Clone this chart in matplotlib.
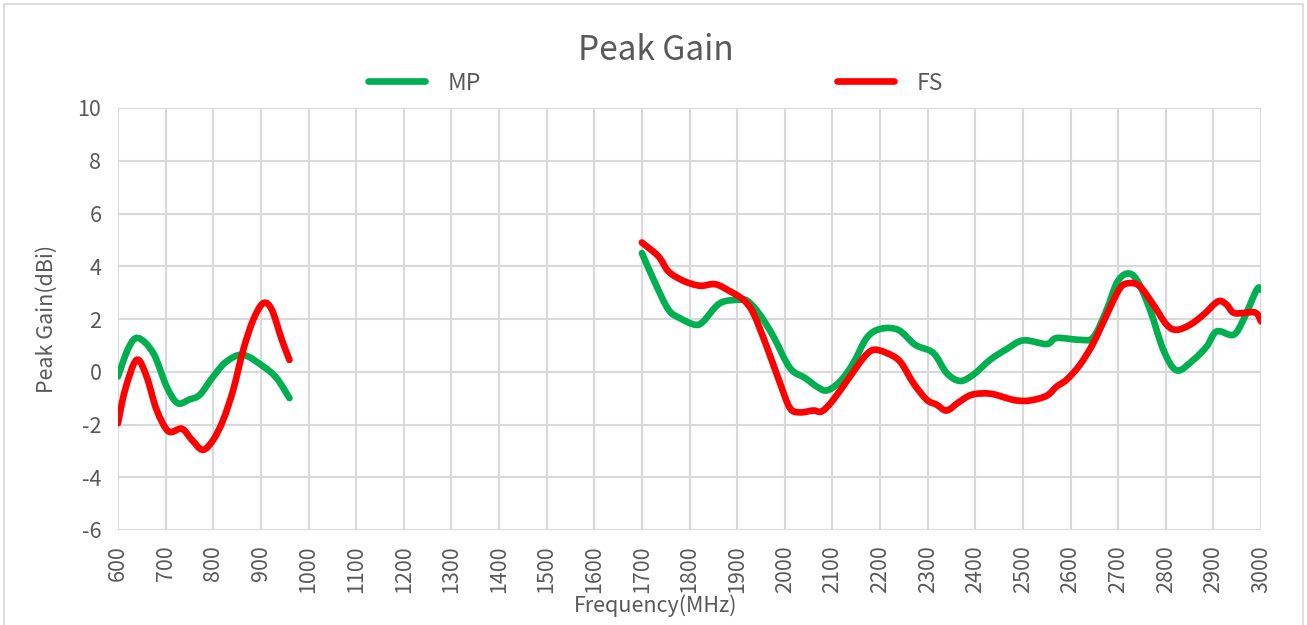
import matplotlib
matplotlib.use("Agg")
import matplotlib.pyplot as plt
from matplotlib.patches import Rectangle, PathPatch
from matplotlib.path import Path
from matplotlib.lines import Line2D

plt.rcParams['font.family'] = ['Noto Sans CJK SC', 'DejaVu Sans']
plt.rcParams['axes.unicode_minus'] = False

# ---- data ----
mp_f1 = [600, 622, 642, 674, 702, 725, 750, 772, 800, 828, 863, 905, 933, 960]
mp_g1 = [-0.18, 0.9, 1.28, 0.71, -0.56, -1.19, -1.05, -0.87, -0.18, 0.39, 0.64, 0.2, -0.24, -1.0]

fs_f1 = [600, 615, 639, 660, 681, 706, 734, 755, 778, 800, 821, 842, 863, 884, 905, 923, 944, 960]
fs_g1 = [-1.95, -0.68, 0.45, -0.18, -1.44, -2.26, -2.16, -2.58, -2.96, -2.58, -1.82, -0.68, 0.83, 1.97,
         2.6, 2.35, 1.21, 0.45]

mp_f2 = [1700, 1728, 1756, 1780, 1812, 1829, 1864, 1906, 1923, 1948, 1976, 2011, 2043, 2067, 2088,
         2116, 2144, 2172, 2200, 2238, 2274, 2312, 2340, 2368, 2396, 2431, 2466, 2501, 2550, 2571,
         2620, 2648, 2676, 2697, 2718, 2739, 2767, 2795, 2823, 2858, 2886, 2907, 2942, 2963, 2991, 3000]
mp_g2 = [4.5, 3.36, 2.35, 2.03, 1.78, 1.91, 2.6, 2.73, 2.67, 2.16, 1.34, 0.14, -0.24, -0.56, -0.71,
         -0.37, 0.33, 1.28, 1.62, 1.59, 1.02, 0.71, -0.05, -0.35, -0.11, 0.45, 0.86, 1.19, 1.05, 1.28,
         1.21, 1.31, 2.35, 3.36, 3.72, 3.49, 2.35, 0.83, 0.05, 0.45, 0.96, 1.53, 1.4, 1.97, 3.11, 3.11]

fs_f2 = [1700, 1735, 1756, 1787, 1822, 1854, 1885, 1913, 1934, 1962, 1990, 2011, 2032, 2060, 2078,
         2102, 2137, 2165, 2186, 2214, 2242, 2270, 2298, 2319, 2340, 2365, 2393, 2431, 2466, 2487,
         2515, 2550, 2571, 2592, 2620, 2648, 2676, 2704, 2725, 2746, 2774, 2802, 2823, 2851, 2879,
         2910, 2928, 2945, 2987, 3000]
fs_g2 = [4.9, 4.37, 3.8, 3.45, 3.26, 3.32, 3.05, 2.73, 2.22, 0.96, -0.43, -1.38, -1.54, -1.47, -1.5,
         -1.06, -0.18, 0.52, 0.83, 0.71, 0.39, -0.43, -1.06, -1.25, -1.47, -1.16, -0.87, -0.83, -1.0, -1.09,
         -1.09, -0.91, -0.56, -0.3, 0.27, 1.09, 2.16, 3.17, 3.36, 3.23, 2.54, 1.78, 1.59, 1.78, 2.16,
         2.67, 2.54, 2.22, 2.25, 1.91]

series_names = ["MP", "FS"]
x_ticks = list(range(600, 3001, 100))
y_ticks = list(range(-6, 11, 2))

# ---- style ----
GREEN = "#00B050"
RED = "#FF0000"
TXT = "#595959"
GRID = "#D9D9D9"
LW = 4.8


def smooth_path(xs, ys):
    """Smoothed line (like a spreadsheet 'smoothed line') as cubic Bezier segments through the points."""
    n = len(xs)
    verts = [(xs[0], ys[0])]
    codes = [Path.MOVETO]
    for i in range(n - 1):
        x0, y0 = (xs[i - 1], ys[i - 1]) if i > 0 else (xs[i], ys[i])
        x1, y1 = xs[i], ys[i]
        x2, y2 = xs[i + 1], ys[i + 1]
        x3, y3 = (xs[i + 2], ys[i + 2]) if i + 2 < n else (xs[i + 1], ys[i + 1])
        c1 = (x1 + (x2 - x0) / 6.0, y1 + (y2 - y0) / 6.0)
        c2 = (x2 - (x3 - x1) / 6.0, y2 - (y3 - y1) / 6.0)
        verts += [c1, c2, (x2, y2)]
        codes += [Path.CURVE4, Path.CURVE4, Path.CURVE4]
    return Path(verts, codes)


fig = plt.figure(figsize=(13.07, 6.25), dpi=100)
fig.patches.append(Rectangle((0.003, -0.01), 0.994, 1.003, transform=fig.transFigure,
                             fill=False, edgecolor="#D9D9D9", linewidth=1.2))
ax = fig.add_axes([118 / 1307, 1 - 530 / 625, (1261 - 118) / 1307, (530 - 108) / 625])

for xs, ys, col, z in [(mp_f1, mp_g1, GREEN, 3), (mp_f2, mp_g2, GREEN, 3),
                       (fs_f1, fs_g1, RED, 4), (fs_f2, fs_g2, RED, 4)]:
    ax.add_patch(PathPatch(smooth_path(xs, ys), fill=False, edgecolor=col, lw=LW,
                           capstyle="round", joinstyle="round", zorder=z))

ax.set_xlim(600, 3000)
ax.set_ylim(-6, 10)
ax.set_xticks(x_ticks)
ax.set_xticklabels([str(v) for v in x_ticks], rotation=90, va="top", ha="center")
ax.set_yticks(y_ticks)
ax.set_yticklabels([str(v) for v in y_ticks])
ax.grid(True, color=GRID, lw=1.5)
ax.set_axisbelow(True)
for s in ax.spines.values():
    s.set_visible(False)
ax.tick_params(axis="both", length=0, labelsize=15.5, labelcolor=TXT)
ax.tick_params(axis="y", pad=12)
ax.tick_params(axis="x", pad=11)

ax.set_xlabel("Frequency(MHz)", fontsize=15.5, color=TXT, va="center")
ax.xaxis.set_label_coords(0.4705, (530 - 606) / 422)
ax.set_ylabel("Peak Gain(dBi)", fontsize=15.5, color=TXT, va="center")
ax.yaxis.set_label_coords((47 - 118) / 1143, 0.5)

fig.text(0.5015, 1 - 50 / 625, "Peak Gain", ha="center", va="center", fontsize=24, color=TXT)
handles = [Line2D([], [], color=GREEN, lw=LW, solid_capstyle="round"),
           Line2D([], [], color=RED, lw=LW, solid_capstyle="round")]
fig.legend(handles, series_names, loc="center", bbox_to_anchor=(0.5015, 1 - 83 / 625), ncol=2,
           frameon=False, fontsize=16.5, labelcolor=TXT, handlelength=2.5, handletextpad=1.0,
           columnspacing=15.5)

fig.savefig("out.png", dpi=100)
